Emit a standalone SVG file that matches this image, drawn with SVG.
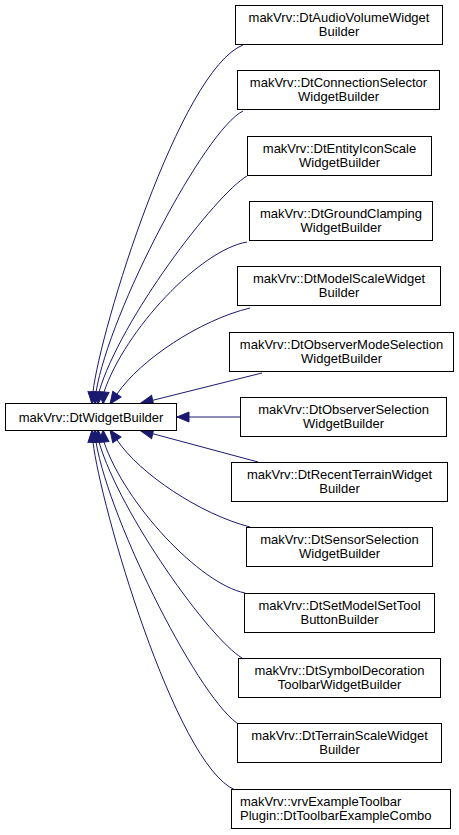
<svg xmlns="http://www.w3.org/2000/svg" width="459" height="835" viewBox="0 0 459 835">
<defs>
<style>
.n rect{fill:#fff;stroke:#000;stroke-width:1}
.n text{font-family:"Liberation Sans",Arial,sans-serif;font-size:13px;fill:#000;text-anchor:middle}
.n text.l{text-anchor:start}
.e path{fill:none;stroke:#191970;stroke-width:1;marker-end:url(#ah)}
</style>
<marker id="ah" markerUnits="userSpaceOnUse" markerWidth="14" markerHeight="12" refX="12" refY="5" orient="auto" overflow="visible">
<path d="M0,0 L12,5 L0,10 z" fill="#191970" stroke="#191970" stroke-width="1"/>
</marker>
</defs>
<rect width="459" height="835" fill="#fff"/>
<g id="edges" class="e">
<path d="M243,45 C180,70 100,330 93,392 L92,404"/>
<path d="M243,111 C205,130 110,310 96,392 L95,404"/>
<path d="M247,176 C215,195 120,320 99,392 L98,404"/>
<path d="M247,242 C200,250 125,330 104,392 L103,404"/>
<path d="M250,308 C200,320 140,360 117,394 L110,404"/>
<path d="M262,373 L152.7,400.3 L141,403"/>
<path d="M240,417 L189,417 L177,417"/>
<path d="M258,462 L152.7,433.7 L141,431"/>
<path d="M250,527 C200,514 140,474 117,440 L110,430"/>
<path d="M245,593 C200,584 125,504 104,442 L103,430"/>
<path d="M242,658 C210,639 120,514 99,442 L98,430"/>
<path d="M240,725 C202,704 110,524 96,442 L95,430"/>
<path d="M235,790 C175,764 100,504 93,442 L92,430"/>
</g>
<g id="n0" class="n"><rect x="5.5" y="403.5" width="171" height="27"/><text x="91" y="421.5">makVrv::DtWidgetBuilder</text></g>
<g id="n1" class="n"><rect x="235.5" y="5.5" width="207" height="39"/><text x="339" y="21.5">makVrv::DtAudioVolumeWidget</text><text x="339" y="35.5">Builder</text></g>
<g id="n2" class="n"><rect x="237.5" y="70.5" width="202" height="39"/><text x="338.5" y="86.5">makVrv::DtConnectionSelector</text><text x="338.5" y="100.5">WidgetBuilder</text></g>
<g id="n3" class="n"><rect x="247.5" y="136.5" width="184" height="39"/><text x="339.5" y="152.5">makVrv::DtEntityIconScale</text><text x="339.5" y="166.5">WidgetBuilder</text></g>
<g id="n4" class="n"><rect x="249.5" y="201.5" width="183" height="39"/><text x="341" y="217.5">makVrv::DtGroundClamping</text><text x="341" y="231.5">WidgetBuilder</text></g>
<g id="n5" class="n"><rect x="237.5" y="266.5" width="203" height="39"/><text x="339" y="282.5">makVrv::DtModelScaleWidget</text><text x="339" y="296.5">Builder</text></g>
<g id="n6" class="n"><rect x="229.5" y="332.5" width="224" height="39"/><text x="341.5" y="348.5">makVrv::DtObserverModeSelection</text><text x="341.5" y="362.5">WidgetBuilder</text></g>
<g id="n7" class="n"><rect x="240.5" y="397.5" width="206" height="39"/><text x="343.5" y="413.5">makVrv::DtObserverSelection</text><text x="343.5" y="427.5">WidgetBuilder</text></g>
<g id="n8" class="n"><rect x="231.5" y="462.5" width="216" height="39"/><text x="339.5" y="478.5">makVrv::DtRecentTerrainWidget</text><text x="339.5" y="492.5">Builder</text></g>
<g id="n9" class="n"><rect x="246.5" y="527.5" width="186" height="39"/><text x="339.5" y="543.5">makVrv::DtSensorSelection</text><text x="339.5" y="557.5">WidgetBuilder</text></g>
<g id="n10" class="n"><rect x="244.5" y="593.5" width="190" height="39"/><text x="339.5" y="609.5">makVrv::DtSetModelSetTool</text><text x="339.5" y="623.5">ButtonBuilder</text></g>
<g id="n11" class="n"><rect x="238.5" y="658.5" width="202" height="39"/><text x="339.5" y="674.5">makVrv::DtSymbolDecoration</text><text x="339.5" y="688.5">ToolbarWidgetBuilder</text></g>
<g id="n12" class="n"><rect x="237.5" y="723.5" width="204" height="39"/><text x="339.5" y="739.5">makVrv::DtTerrainScaleWidget</text><text x="339.5" y="753.5">Builder</text></g>
<g id="n13" class="n"><rect x="231.5" y="789.5" width="219" height="39"/><text class="l" x="240" y="805.5">makVrv::vrvExampleToolbar</text><text class="l" x="240" y="819.5">Plugin::DtToolbarExampleCombo</text></g>
</svg>
